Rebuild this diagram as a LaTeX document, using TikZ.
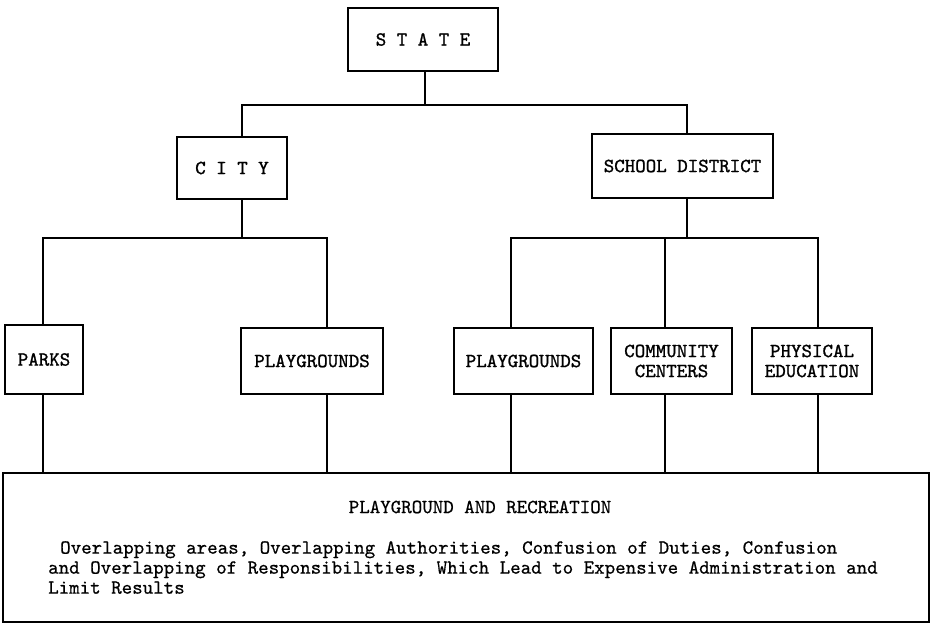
\documentclass[tikz,border=0pt]{standalone}
\usepackage{fontspec}
\newfontfamily\typewriter{lmmono10-regular.otf}[FakeBold=1.2]
\newfontfamily\typescript{lmmono10-regular.otf}[FakeBold=0.6]
\usetikzlibrary{calc}
\tikzset{
  office/.style={draw, line width=2pt, inner sep=0pt, align=center,
    font=\typewriter\fontsize{20}{20}\selectfont},
  typed/.style={inner sep=0pt, font=\typescript\fontsize{20}{20}\selectfont},
  wire/.style={line width=2pt}
}

\begin{document}
\begin{tikzpicture}[x=1pt, y=-1pt]
            \useasboundingbox (0,0) rectangle (934,628);

            \node[office, minimum width=150pt, minimum height=63pt] (state) at (423,39.5) {S T A T E};
            \node[office, minimum width=110pt, minimum height=62pt] (city) at (232,168) {C I T Y};
            \node[office, minimum width=181pt, minimum height=64pt] (school) at (682.5,166) {SCHOOL DISTRICT};

            \node[office, minimum width=78pt, minimum height=69pt] (parks) at (44,359.5) {PARKS};
            \node[office, minimum width=142pt, minimum height=66pt] (cityplay) at (312,361) {PLAYGROUNDS};
            \node[office, minimum width=139pt, minimum height=66pt] (schoolplay) at (523.5,361) {PLAYGROUNDS};
            \node[office, minimum width=121pt, minimum height=66pt] (centers) at (671.5,361) {COMMUNITY\\CENTERS};
            \node[office, minimum width=120pt, minimum height=66pt] (physed) at (812,361) {PHYSICAL\\EDUCATION};

            \node[office, minimum width=926pt, minimum height=149pt] (report) at (466,547.5) {};
            \node[typed] (title) at (480,507) {PLAYGROUND AND RECREATION};
            \node[typed, anchor=north west, align=left] (summary) at (48,541)
              {\hspace*{12pt}Overlapping areas, Overlapping Authorities, Confusion of Duties, Confusion\\
               and Overlapping of Responsibilities, Which Lead to Expensive Administration and\\
               Limit Results};

            \coordinate (busS) at (425,105);
            \coordinate (busC) at (242,238);
            \coordinate (busD) at (687,238);

            \draw[wire] ([xshift=2pt]state.south) -- (busS);
            \draw[wire] ([xshift=10pt]city.north) |- (busS) -| ([xshift=4.5pt]school.north);

            \draw[wire] ([xshift=10pt]city.south) -- (busC);
            \draw[wire] ([xshift=-1pt]parks.north) |- (busC) -| ([xshift=15pt]cityplay.north);

            \draw[wire] ([xshift=4.5pt]school.south) -- (busD);
            \draw[wire] ([xshift=-12.5pt]schoolplay.north) |- (busD) -| ([xshift=6pt]physed.north);
            \draw[wire] ([xshift=-6.5pt]centers.north) -- ([xshift=-6.5pt]centers.north |- busD);

            \draw[wire] ([xshift=-1pt]parks.south) -- ([xshift=-1pt]parks.south |- report.north);
            \draw[wire] ([xshift=15pt]cityplay.south) -- ([xshift=15pt]cityplay.south |- report.north);
            \draw[wire] ([xshift=-12.5pt]schoolplay.south) -- ([xshift=-12.5pt]schoolplay.south |- report.north);
            \draw[wire] ([xshift=-6.5pt]centers.south) -- ([xshift=-6.5pt]centers.south |- report.north);
            \draw[wire] ([xshift=6pt]physed.south) -- ([xshift=6pt]physed.south |- report.north);
        \end{tikzpicture}
\end{document}
